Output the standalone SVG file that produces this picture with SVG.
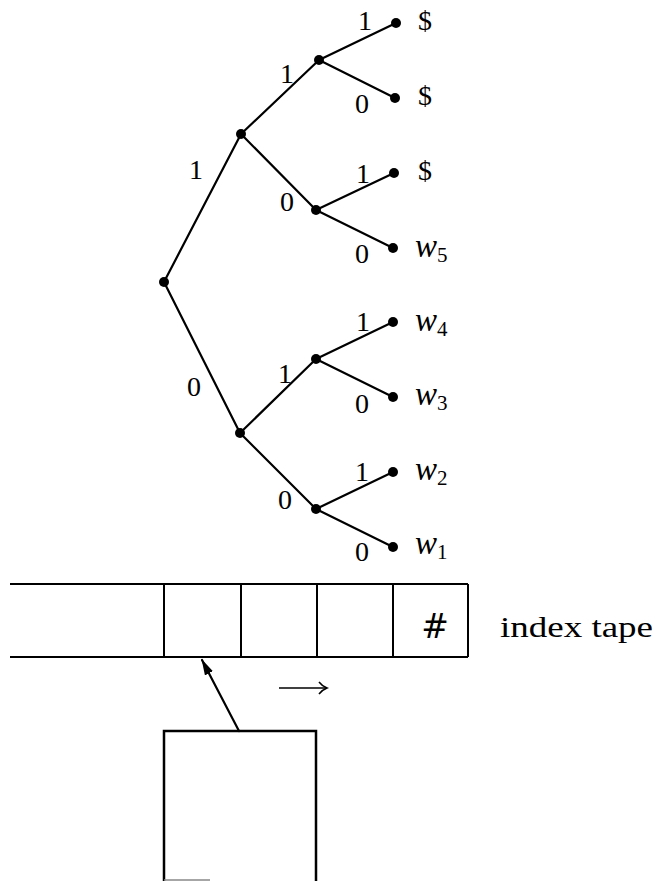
<svg xmlns="http://www.w3.org/2000/svg" width="659" height="881" viewBox="0 0 659 881">
  <style>
    .edge { stroke: #000; stroke-width: 2.2; fill: none; stroke-linecap: round; }
    .dot { fill: #000; }
    .bit { font-family: "Liberation Serif", serif; font-size: 28px; text-anchor: middle; fill: #000; }
    .leaf { font-family: "Liberation Serif", serif; font-size: 28px; fill: #000; }
    .w { font-family: "Liberation Serif", serif; font-style: italic; font-size: 33px; fill: #000; }
    .sub { font-style: normal; font-size: 21px; }
    .tape { stroke: #000; stroke-width: 2; fill: none; }
    .lbl { font-family: "Liberation Serif", serif; font-size: 30px; fill: #000; }
  </style>
  <defs>
    <marker id="head" markerWidth="16" markerHeight="9" refX="15" refY="4.5" orient="auto" markerUnits="userSpaceOnUse">
      <path d="M0,0 L16,4.5 L0,9 Z" fill="#000"/>
    </marker>
  </defs>

  <!-- tree edges -->
  <g id="connectors">
    <path class="edge" d="M164,282 L241,134"/>
    <path class="edge" d="M164,282 L240,433"/>
    <path class="edge" d="M241,134 L319,60"/>
    <path class="edge" d="M241,134 L316,210"/>
    <path class="edge" d="M240,433 L316,359"/>
    <path class="edge" d="M240,433 L316,509"/>
    <path class="edge" d="M319,60 L396,23"/>
    <path class="edge" d="M319,60 L395,98"/>
    <path class="edge" d="M316,210 L394,173"/>
    <path class="edge" d="M316,210 L393,248"/>
    <path class="edge" d="M316,359 L393,322"/>
    <path class="edge" d="M316,359 L393,397"/>
    <path class="edge" d="M316,509 L393,472"/>
    <path class="edge" d="M316,509 L393,547"/>
    <!-- head pointer to tape -->
    <path class="edge" d="M239,731 L202,660" marker-end="url(#head)"/>
  </g>

  <!-- edge labels -->
  <g id="edge-labels">
    <text class="bit" x="196" y="179">1</text>
    <text class="bit" x="194" y="396">0</text>
    <text class="bit" x="287" y="83">1</text>
    <text class="bit" x="287" y="211">0</text>
    <text class="bit" x="285" y="383">1</text>
    <text class="bit" x="285" y="509">0</text>
    <text class="bit" x="365" y="30">1</text>
    <text class="bit" x="362" y="113">0</text>
    <text class="bit" x="363" y="183">1</text>
    <text class="bit" x="362" y="263">0</text>
    <text class="bit" x="363" y="331">1</text>
    <text class="bit" x="362" y="413">0</text>
    <text class="bit" x="362" y="481">1</text>
    <text class="bit" x="362" y="561">0</text>
  </g>

  <!-- tree nodes -->
  <g id="root"><circle class="dot" cx="164" cy="282" r="5"/></g>
  <g id="n1"><circle class="dot" cx="241" cy="134" r="5"/></g>
  <g id="n0"><circle class="dot" cx="240" cy="433" r="5"/></g>
  <g id="n11"><circle class="dot" cx="319" cy="60" r="5"/></g>
  <g id="n10"><circle class="dot" cx="316" cy="210" r="5"/></g>
  <g id="n01"><circle class="dot" cx="316" cy="359" r="5"/></g>
  <g id="n00"><circle class="dot" cx="316" cy="509" r="5"/></g>

  <g id="leaf111"><circle class="dot" cx="396" cy="23" r="5"/><text class="leaf" x="418" y="30">$</text></g>
  <g id="leaf110"><circle class="dot" cx="395" cy="98" r="5"/><text class="leaf" x="418" y="105">$</text></g>
  <g id="leaf101"><circle class="dot" cx="394" cy="173" r="5"/><text class="leaf" x="418" y="180">$</text></g>
  <g id="leaf100"><circle class="dot" cx="393" cy="248" r="5"/><text class="w" x="415" y="257">w<tspan class="sub" dy="5">5</tspan></text></g>
  <g id="leaf011"><circle class="dot" cx="393" cy="322" r="5"/><text class="w" x="415" y="331">w<tspan class="sub" dy="5">4</tspan></text></g>
  <g id="leaf010"><circle class="dot" cx="393" cy="397" r="5"/><text class="w" x="415" y="405">w<tspan class="sub" dy="5">3</tspan></text></g>
  <g id="leaf001"><circle class="dot" cx="393" cy="472" r="5"/><text class="w" x="415" y="480">w<tspan class="sub" dy="5">2</tspan></text></g>
  <g id="leaf000"><circle class="dot" cx="393" cy="547" r="5"/><text class="w" x="415" y="554">w<tspan class="sub" dy="5">1</tspan></text></g>

  <!-- index tape -->
  <g id="tape">
    <path class="tape" d="M10,584 L468,584 M10,657 L468,657"/>
    <path class="tape" d="M164,584 V657 M241,584 V657 M317,584 V657 M393,584 V657 M468,584 V657"/>
    <text x="435" y="638" text-anchor="middle" font-family="DejaVu Sans, sans-serif" font-size="33" fill="#000">#</text>
    <text class="lbl" x="500" y="637" textLength="153" lengthAdjust="spacingAndGlyphs">index tape</text>
  </g>

  <!-- direction of tape motion -->
  <g id="direction">
    <path d="M279,688 H326" stroke="#000" stroke-width="1.6" fill="none"/>
    <path d="M319,682 Q322,686 327,688 Q322,690 319,694" stroke="#000" stroke-width="1.5" fill="none"/>
  </g>

  <!-- control box -->
  <g id="control">
    <path d="M164,881 V731 H316 V881" stroke="#000" stroke-width="2.5" fill="none"/>
    <path d="M164,880 H210" stroke="#888" stroke-width="1.5" fill="none"/>
  </g>
</svg>
